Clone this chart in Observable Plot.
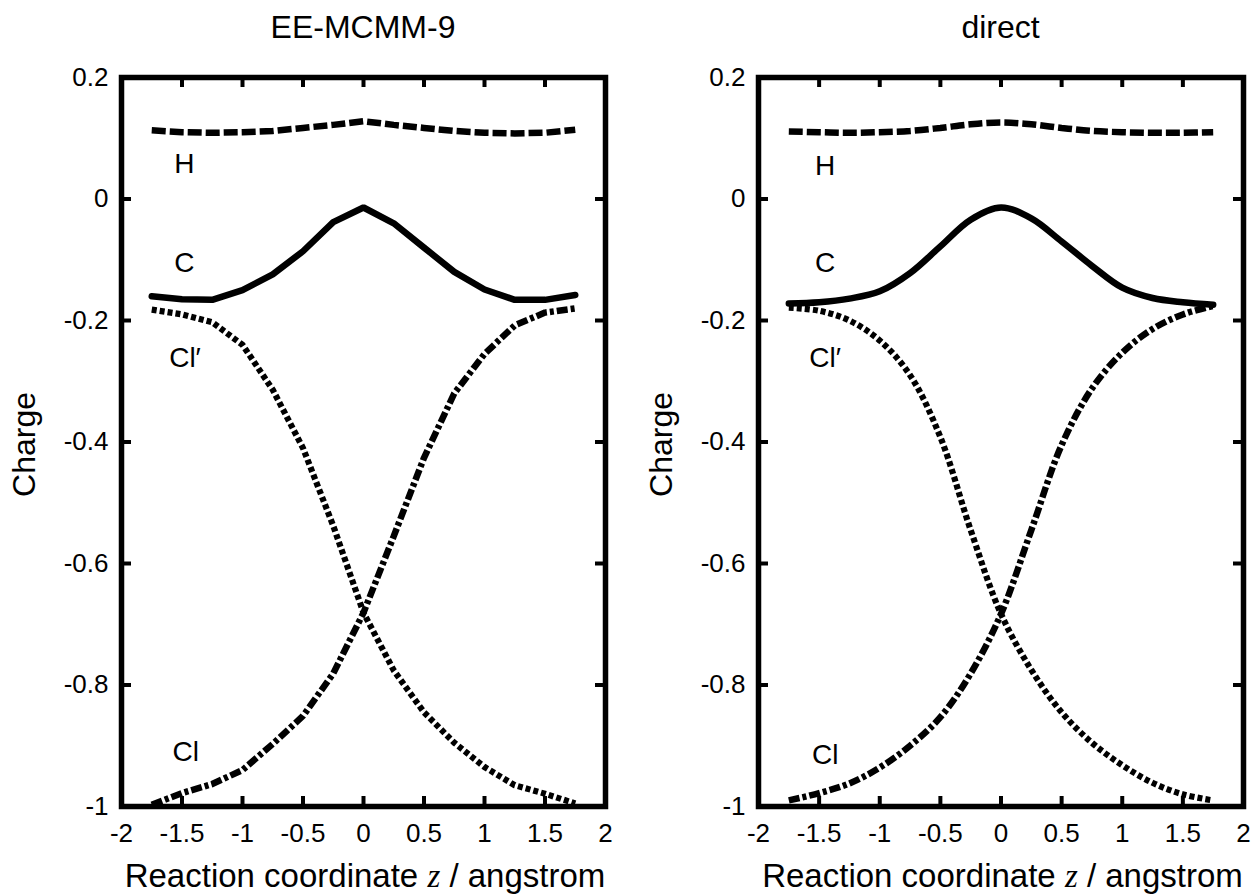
<!DOCTYPE html>
<html>
<head>
<meta charset="utf-8">
<script src="https://cdn.jsdelivr.net/npm/d3@7"></script>
<script src="https://cdn.jsdelivr.net/npm/@observablehq/plot@0.6"></script>
<style>
  html, body { margin: 0; padding: 0; background: #fff; }
  #wrap { position: relative; width: 1255px; height: 895px; overflow: hidden; background: #fff; }
  #wrap svg { position: absolute; top: 0; }
</style>
</head>
<body>
<div id="wrap"></div>
<script>
// Reaction coordinate z (angstrom) at which the charges are sampled
const zGrid = [-1.75, -1.5, -1.25, -1.0, -0.75, -0.5, -0.25, 0, 0.25, 0.5, 0.75, 1.0, 1.25, 1.5, 1.75];

// EE-MCMM-9 partial charges
const eeH   = [0.113, 0.110, 0.109, 0.110, 0.112, 0.117, 0.122, 0.128, 0.122, 0.117, 0.112, 0.109, 0.108, 0.109, 0.114];
const eeC   = [-0.160, -0.165, -0.166, -0.150, -0.124, -0.086, -0.038, -0.014, -0.040, -0.080, -0.120, -0.149, -0.166, -0.166, -0.158];
const eeCl  = [-0.997, -0.978, -0.963, -0.940, -0.897, -0.851, -0.781, -0.681, -0.555, -0.426, -0.320, -0.255, -0.208, -0.187, -0.180];
const eeClp = [-0.182, -0.190, -0.203, -0.240, -0.314, -0.410, -0.538, -0.681, -0.776, -0.845, -0.895, -0.935, -0.965, -0.979, -0.995];

// Direct (electronic structure) partial charges
const dirH   = [0.111, 0.110, 0.109, 0.110, 0.112, 0.117, 0.123, 0.126, 0.123, 0.117, 0.112, 0.110, 0.109, 0.109, 0.110];
const dirC   = [-0.172, -0.170, -0.164, -0.152, -0.122, -0.078, -0.034, -0.014, -0.032, -0.070, -0.110, -0.146, -0.163, -0.170, -0.174];
const dirCl  = [-0.990, -0.978, -0.962, -0.936, -0.900, -0.853, -0.781, -0.683, -0.545, -0.405, -0.312, -0.253, -0.214, -0.190, -0.176];
const dirClp = [-0.179, -0.184, -0.200, -0.233, -0.290, -0.392, -0.545, -0.683, -0.775, -0.845, -0.895, -0.932, -0.961, -0.980, -0.990];

// Axis ticks
const xTickValues = [-2, -1.5, -1, -0.5, 0, 0.5, 1, 1.5, 2];
const yTickValues = [0.2, 0, -0.2, -0.4, -0.6, -0.8, -1];

// Atom labels and where they sit (z, charge)
const atomLabels = ["H", "C", "Cl\u2032", "Cl"];
const eeLabelZ  = [-1.48, -1.48, -1.475, -1.47];
const eeLabelQ  = [0.057, -0.105, -0.261, -0.911];
const dirLabelZ = [-1.45, -1.45, -1.45, -1.45];
const dirLabelQ = [0.055, -0.105, -0.261, -0.915];

const FONT = '"Liberation Sans", Arial, Helvetica, sans-serif';

// Line style per atom
const lineStyle = {
  "H":   { strokeWidth: 6.5, strokeDasharray: "14,4", strokeLinecap: "butt" },
  "C":   { strokeWidth: 6.5, strokeDasharray: null,   strokeLinecap: "round" },
  "Cl\u2032": { strokeWidth: 6.2, strokeDasharray: "5,3", strokeLinecap: "butt" },
  "Cl":  { strokeWidth: 6.5, strokeDasharray: "11,3,4,3", strokeLinecap: "butt" }
};

function panel({ title, series, curve, labelZ, labelQ, width, marginLeft, marginRight }) {
  const height = 895, marginTop = 77, marginBottom = 89;
  const plotW = width - marginLeft - marginRight;
  const plotH = height - marginTop - marginBottom;
  const tickLen = 10;
  const xInner = xTickValues.slice(1, -1);
  const yInner = yTickValues.slice(1, -1);

  const lines = series.map(([name, values]) =>
    Plot.line(zGrid, {
      x: d => d,
      y: (d, i) => values[i],
      curve,
      stroke: "black",
      strokeLinejoin: "miter",
      ...lineStyle[name]
    })
  );

  const plot = Plot.plot({
    width, height, marginLeft, marginRight, marginTop, marginBottom,
    x: { domain: [-2, 2] },
    y: { domain: [-1, 0.2] },
    style: { fontFamily: FONT, fontSize: "26px", color: "black", background: "white", overflow: "visible" },
    marks: [
      Plot.axisX(xTickValues, { anchor: "bottom", tickSize: 0, tickPadding: 17, tickFormat: d => String(d), fontSize: 26, label: null }),
      Plot.axisY(yTickValues, { anchor: "left", tickSize: 0, tickPadding: 13, tickFormat: d => String(d), fontSize: 26, label: null }),
      ...lines,
      Plot.text(atomLabels, {
        x: (d, i) => labelZ[i], y: (d, i) => labelQ[i], text: d => d,
        fontSize: 28, textAnchor: "middle", fill: "black"
      }),
      // inward ticks on all four sides
      Plot.tickX(xInner, { x: d => d, insetTop: plotH - tickLen, strokeWidth: 4 }),
      Plot.tickX(xInner, { x: d => d, insetBottom: plotH - tickLen, strokeWidth: 4 }),
      Plot.tickY(yInner, { y: d => d, insetRight: plotW - tickLen, strokeWidth: 4 }),
      Plot.tickY(yInner, { y: d => d, insetLeft: plotW - tickLen, strokeWidth: 4 }),
      Plot.frame({ stroke: "black", strokeWidth: 5.5 })
    ]
  });

  const xs = plot.scale("x"), ys = plot.scale("y");
  const cx = (xs.apply(-2) + xs.apply(2)) / 2;
  const cy = (ys.apply(0.2) + ys.apply(-1)) / 2;
  const svg = d3.select(plot);

  svg.append("text")
    .attr("x", cx).attr("y", marginTop - 39)
    .attr("text-anchor", "middle")
    .style("font-family", FONT).style("font-size", "32px").attr("fill", "black")
    .text(title);

  const xl = svg.append("text")
    .attr("x", cx + 2).attr("y", height - 8)
    .attr("text-anchor", "middle")
    .style("font-family", FONT).style("font-size", "33px").attr("fill", "black");
  xl.append("tspan").text("Reaction coordinate ");
  xl.append("tspan").style("font-family", '"Liberation Serif", "Times New Roman", serif').style("font-style", "italic").text("z");
  xl.append("tspan").text(" / angstrom");

  svg.append("text")
    .attr("transform", `translate(${xs.apply(-2) - 86},${cy + 3}) rotate(-90)`)
    .attr("text-anchor", "middle")
    .style("font-family", FONT).style("font-size", "32px").attr("fill", "black")
    .text("Charge");

  return plot;
}

const wrap = document.getElementById("wrap");

const left = panel({
  title: "EE-MCMM-9",
  series: [["H", eeH], ["C", eeC], ["Cl\u2032", eeClp], ["Cl", eeCl]],
  curve: "linear",
  labelZ: eeLabelZ, labelQ: eeLabelQ,
  width: 627, marginLeft: 121, marginRight: 22
});
left.style.left = "0px";
wrap.appendChild(left);

const right = panel({
  title: "direct",
  series: [["H", dirH], ["C", dirC], ["Cl\u2032", dirClp], ["Cl", dirCl]],
  curve: "catmull-rom",
  labelZ: dirLabelZ, labelQ: dirLabelQ,
  width: 628, marginLeft: 131, marginRight: 12
});
right.style.left = "627px";
wrap.appendChild(right);
</script>
</body>
</html>
